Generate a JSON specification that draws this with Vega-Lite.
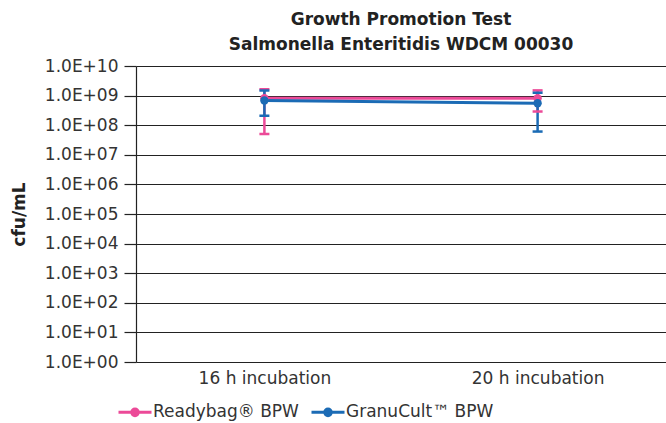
{
  "$schema": "https://vega.github.io/schema/vega-lite/v6.json",
  "width": 530,
  "height": 296,
  "autosize": {"type": "none"},
  "padding": {"left": 136, "top": 66, "right": 0, "bottom": 61},
  "background": "white",
  "config": {
    "font": "DejaVu Sans",
    "view": {"stroke": null},
    "axis": {"labelFont": "DejaVu Sans", "titleFont": "DejaVu Sans", "labelColor": "#333333", "titleColor": "#222222"}
  },
  "title": {
    "text": ["Growth Promotion Test", "Salmonella Enteritidis WDCM 00030"],
    "fontSize": 17,
    "fontWeight": "bold",
    "color": "#222222",
    "anchor": "middle",
    "lineHeight": 25,
    "offset": 3,
    "font": "DejaVu Sans"
  },
  "data": {
    "values": [
      {"time": "16 h incubation", "series": "Readybag® BPW", "cfu": 820000000, "lo": 50000000, "hi": 1650000000},
      {"time": "20 h incubation", "series": "Readybag® BPW", "cfu": 820000000, "lo": 290000000, "hi": 1500000000},
      {"time": "16 h incubation", "series": "GranuCult™ BPW", "cfu": 680000000, "lo": 210000000, "hi": 1480000000},
      {"time": "20 h incubation", "series": "GranuCult™ BPW", "cfu": 550000000, "lo": 61000000, "hi": 1250000000}
    ]
  },
  "encoding": {
    "x": {
      "field": "time", "type": "nominal", "sort": null,
      "scale": {"type": "point", "padding": 0.47},
      "axis": {"title": null, "labelAngle": 0, "labelFontSize": 17, "labelPadding": 8, "ticks": false, "domain": false, "grid": false}
    },
    "color": {
      "field": "series", "type": "nominal", "sort": null,
      "scale": {"domain": ["Readybag® BPW", "GranuCult™ BPW"], "range": ["#EC4A98", "#1B6BB5"]},
      "legend": {
        "title": null, "orient": "none", "direction": "horizontal",
        "legendX": -19, "legendY": 328,
        "labelFontSize": 17, "labelColor": "#333333", "labelFont": "DejaVu Sans",
        "symbolType": "M-1,0L1,0M-0.2,0A0.2,0.2 0 1,1 0.2,0A0.2,0.2 0 1,1 -0.2,0Z",
        "symbolSize": 1089, "symbolStrokeWidth": 3, "symbolOffset": 0,
        "labelOffset": 0, "columnPadding": 6,
        "encode": {"symbols": {"update": {"fill": {"scale": "color", "field": "value"}}}}
      }
    }
  },
  "layer": [
    {
      "mark": {"type": "rule", "strokeWidth": 2.5},
      "encoding": {
        "y": {"field": "lo", "type": "quantitative"},
        "y2": {"field": "hi"}
      }
    },
    {
      "mark": {"type": "tick", "orient": "horizontal", "size": 10, "thickness": 2.5, "opacity": 1},
      "encoding": {"y": {"field": "lo", "type": "quantitative"}}
    },
    {
      "mark": {"type": "tick", "orient": "horizontal", "size": 10, "thickness": 2.5, "opacity": 1},
      "encoding": {"y": {"field": "hi", "type": "quantitative"}}
    },
    {
      "mark": {"type": "line", "strokeWidth": 3, "point": {"filled": true, "size": 70, "opacity": 1}},
      "encoding": {
        "y": {
          "field": "cfu", "type": "quantitative",
          "scale": {"type": "log", "domain": [1, 10000000000], "nice": false},
          "axis": {
            "title": "cfu/mL", "titleFontSize": 17, "titleFontWeight": "bold", "titleX": -108,
            "values": [1, 10, 100, 1000, 10000, 100000, 1000000, 10000000, 100000000, 1000000000, 10000000000],
            "labelExpr": "'1.0E+' + (round(log(datum.value)/LN10) < 10 ? '0' : '') + round(log(datum.value)/LN10)",
            "labelFontSize": 17, "labelPadding": 6, "tickSize": 12,
            "tickColor": "#222222", "domainColor": "#222222", "gridColor": "#222222",
            "grid": true, "gridOpacity": 1, "domainWidth": 1.2, "tickWidth": 1.2, "gridWidth": 1.2
          }
        },
        "order": {"field": "series", "sort": "descending"}
      }
    }
  ]
}
